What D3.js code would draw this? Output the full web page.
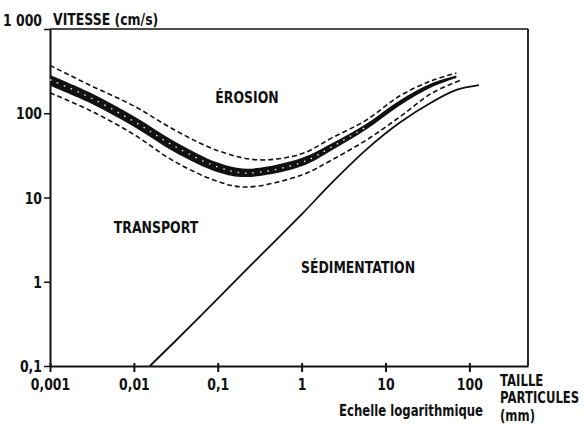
<!DOCTYPE html>
<html>
<head>
<meta charset="utf-8">
<script src="https://cdn.jsdelivr.net/npm/d3@7"></script>
<style>
  body { margin: 0; background: #fff; }
  svg text { font-family: "Liberation Sans Narrow", "DejaVu Sans", sans-serif; font-weight: bold; fill: #111; }
</style>
</head>
<body>
<div id="chart"></div>
<script>
// grain size (mm) and velocity (cm/s)
var xTicks = [0.001, 0.01, 0.1, 1, 10, 100];
var xTickLabels = ["0,001", "0,01", "0,1", "1", "10", "100"];
var yTicks = [0.1, 1, 10, 100, 1000];
var yTickLabels = ["0,1", "1", "10", "100", "1 000"];

// erosion curve (thick band) : centre and both edges
var bandSize = [0.001, 0.003, 0.01, 0.03, 0.1, 0.22, 1, 2.3, 5.9, 14.7, 36, 70];
var bandMid  = [250, 154, 80, 41, 23, 19.5, 26, 40, 69, 132, 216, 270];
var bandTop  = [285, 176, 92, 47, 26, 22, 29.5, 44, 75, 142, 228, 280];
var bandLow  = [212, 132, 69, 35, 20, 17.5, 23.5, 36.5, 64, 123, 205, 262];

// dashed limits around the erosion curve
var upperSize = [0.001, 0.003, 0.01, 0.03, 0.1, 0.3, 1, 2.3, 5.9, 14.7, 36, 70];
var upperVel  = [370, 215, 122, 64, 36, 28, 33, 51, 83, 160, 245, 300];
var lowerSize = [0.001, 0.003, 0.01, 0.03, 0.1, 0.22, 1, 2.3, 5.9, 14.7, 36, 80];
var lowerVel  = [175, 108, 56, 27, 15.5, 13.3, 18.5, 28, 48, 90, 174, 248];

// sedimentation curve
var sedSize = [0.0155, 0.03, 0.1, 0.3, 1, 2.3, 5.9, 14.7, 36, 70, 130];
var sedVel  = [0.1, 0.19, 0.63, 1.9, 6.3, 15, 37, 77, 136, 189, 216];

var width = 584, height = 426;
var narrow = 0.78;   // squeeze text horizontally (condensed look)
var svg = d3.select("#chart").append("svg")
    .attr("width", width)
    .attr("height", height);

var x = d3.scaleLog().domain([0.001, 500]).range([50, 528]);
var y = d3.scaleLog().domain([0.1, 1000]).range([366, 29]);

/* frame : top and right borders */
svg.append("line")
    .attr("x1", x(0.001)).attr("x2", x(500))
    .attr("y1", y(1000)).attr("y2", y(1000))
    .attr("stroke", "#111").attr("stroke-width", 1.6);
svg.append("line")
    .attr("x1", x(500)).attr("x2", x(500))
    .attr("y1", y(1000)).attr("y2", y(0.1))
    .attr("stroke", "#111").attr("stroke-width", 1.8);

/* axes */
var xAxis = d3.axisBottom(x)
    .tickValues(xTicks)
    .tickFormat(function(d, i){ return xTickLabels[i]; })
    .tickSizeInner(6).tickSizeOuter(0).tickPadding(7);
var gx = svg.append("g").attr("transform", "translate(0," + y(0.1) + ")").call(xAxis);
gx.select(".domain").attr("stroke", "#111").attr("stroke-width", 2);
gx.selectAll(".tick line").attr("y1", -3).attr("stroke", "#111").attr("stroke-width", 2);
gx.selectAll(".tick text").attr("font-size", 16).attr("font-family", null)
    .attr("transform", "scale(" + narrow + ",1)");

var yAxis = d3.axisLeft(y)
    .tickValues(yTicks)
    .tickFormat(function(d, i){ return yTickLabels[i]; })
    .tickSizeInner(6).tickSizeOuter(0).tickPadding(2);
var gy = svg.append("g").attr("transform", "translate(" + x(0.001) + ",0)").call(yAxis);
gy.select(".domain").attr("stroke", "#111").attr("stroke-width", 2);
gy.selectAll(".tick line").attr("stroke", "#111").attr("stroke-width", 1.5);
gy.selectAll(".tick text").attr("font-size", 16).attr("font-family", null)
    .attr("x", -8 / narrow)
    .attr("transform", "scale(" + narrow + ",1)")
    .attr("dy", function(d){ return d == 1000 ? "-0.25em" : "0.35em"; });

/* erosion band */
var band = bandSize.map(function(d, i){ return {d: d, mid: bandMid[i], top: bandTop[i], low: bandLow[i]}; });
svg.append("path")
    .datum(band)
    .attr("fill", "#111")
    .attr("d", d3.area()
        .x(function(p){ return x(p.d); })
        .y0(function(p){ return y(p.low); })
        .y1(function(p){ return y(p.top); })
        .curve(d3.curveCatmullRom));
// little white specks in the band
svg.append("path")
    .datum(band.filter(function(p){ return p.d < 6; }))
    .attr("fill", "none")
    .attr("stroke", "#fff")
    .attr("stroke-width", 1.3)
    .attr("stroke-dasharray", "1.5,6")
    .attr("d", d3.line()
        .x(function(p){ return x(p.d); })
        .y(function(p){ return y(p.mid); })
        .curve(d3.curveCatmullRom));

/* dashed limits */
var dashLine = d3.line()
    .x(function(p){ return x(p[0]); })
    .y(function(p){ return y(p[1]); })
    .curve(d3.curveCatmullRom);
svg.append("path")
    .datum(d3.zip(upperSize, upperVel))
    .attr("fill", "none").attr("stroke", "#111")
    .attr("stroke-width", 1.6).attr("stroke-dasharray", "5,3")
    .attr("d", dashLine);
svg.append("path")
    .datum(d3.zip(lowerSize, lowerVel))
    .attr("fill", "none").attr("stroke", "#111")
    .attr("stroke-width", 1.6).attr("stroke-dasharray", "5,3")
    .attr("d", dashLine);

/* sedimentation */
svg.append("path")
    .datum(d3.zip(sedSize, sedVel))
    .attr("fill", "none").attr("stroke", "#111")
    .attr("stroke-width", 1.8)
    .attr("d", dashLine);

/* labels */
function label(txt, px, py, anchor, size){
  svg.append("text")
     .attr("transform", "translate(" + px + "," + py + ") scale(" + narrow + ",1)")
     .attr("text-anchor", anchor || "start")
     .attr("font-size", size || 16)
     .text(txt);
}
label("VITESSE (cm/s)", 53, 25);
label("ÉROSION", 247, 103, "middle");
label("TRANSPORT", 156, 233, "middle");
label("SÉDIMENTATION", 358, 273, "middle");
label("TAILLE", 500, 386, "start", 15);
label("PARTICULES", 500, 403, "start", 15);
label("(mm)", 500, 421, "start", 15);
label("Echelle logarithmique", 483, 416, "end", 15);
</script>
</body>
</html>
